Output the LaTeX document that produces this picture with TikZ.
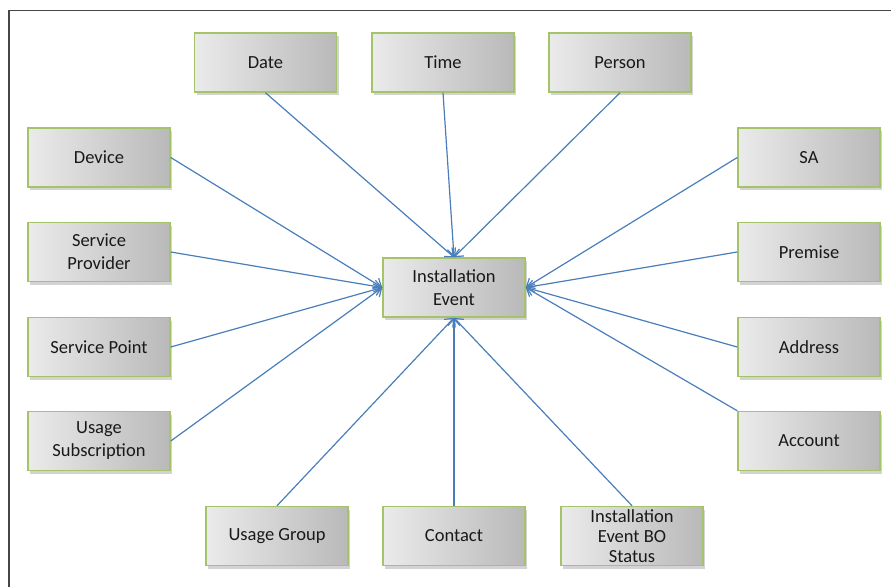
\documentclass[tikz,border=0pt]{standalone}
\usepackage{fontspec}
\setmainfont{Carlito}
\usetikzlibrary{positioning,shadows,arrows.meta}
\definecolor{boxborder}{RGB}{165,195,105}
\definecolor{linkblue}{RGB}{74,126,187}
\definecolor{framegray}{RGB}{70,70,70}

\begin{document}
\begin{tikzpicture}[x=1pt,y=-1pt,
    entity/.style={draw=boxborder, line width=1.5pt, left color=gray!16, right color=gray!55,
        minimum width=142pt, minimum height=59pt, align=center, text=black!90,
        font=\fontsize{18.5}{23}\selectfont,
        drop shadow={shadow xshift=2pt, shadow yshift=-3pt, opacity=0.35}},
    link/.style={draw=linkblue, line width=1.2pt, -{Straight Barb[length=7pt,width=12pt]}}]
        \useasboundingbox (0,0) rectangle (891,587);
        \draw[framegray, line width=1.5pt] (9,587) -- (9,10.5) -- (891,10.5);

        % centre
        \node[entity] (event) at (454,287.5) {Installation\\Event};

        % top row
        \node[entity] (date) at (265.5,62.5) {Date};
        \node[entity] (time) at (443,62.5) {Time};
        \node[entity] (person) at (620,62.5) {Person};

        % left column
        \node[entity] (device) at (99,157.5) {Device};
        \node[entity] (provider) at (99,252) {Service\\Provider};
        \node[entity] (point) at (99,347) {Service Point};
        \node[entity] (subscription) at (99,441) {Usage\\Subscription};

        % right column
        \node[entity] (sa) at (809,157.5) {SA};
        \node[entity] (premise) at (809,252) {Premise};
        \node[entity] (address) at (809,347) {Address};
        \node[entity] (account) at (809,441) {Account};

        % bottom row
        \node[entity] (group) at (277,536) {Usage Group};
        \node[entity] (contact) at (454,536) {Contact};
        \node[entity, inner ysep=0pt, font=\fontsize{18.5}{20}\selectfont] (bostatus) at (632,536) {Installation\\Event BO\\Status};

        \draw[link] (date.south) -- (event.north);
        \draw[link] (time.south) -- (event.north);
        \draw[link] (person.south) -- (event.north);
        \draw[link] (device.east) -- (event.west);
        \draw[link] (provider.east) -- (event.west);
        \draw[link] (point.east) -- (event.west);
        \draw[link] (subscription.east) -- (event.west);
        \draw[link] (sa.west) -- (event.east);
        \draw[link] (premise.west) -- (event.east);
        \draw[link] (address.west) -- (event.east);
        \draw[link] (account.north west) -- (event.east);
        \draw[link] (group.north) -- (event.south);
        \draw[link] (contact.north) -- (event.south);
        \draw[link] (bostatus.north) -- (event.south);
    \end{tikzpicture}
\end{document}
